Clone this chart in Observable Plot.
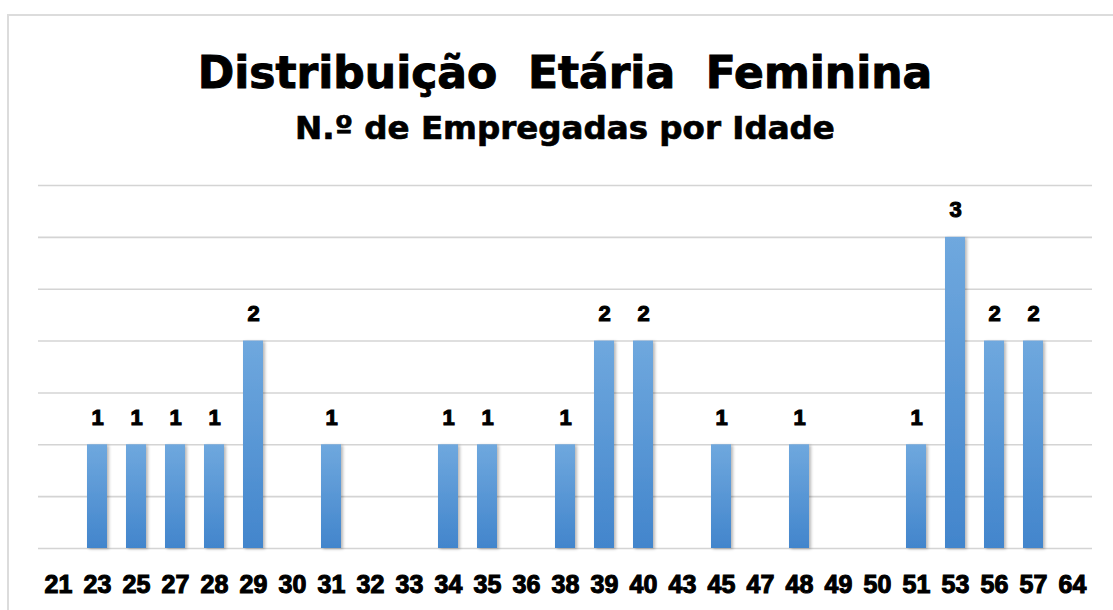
<!DOCTYPE html>
<html>
<head>
<meta charset="utf-8">
<script src="https://cdn.jsdelivr.net/npm/d3@7"></script>
<script src="https://cdn.jsdelivr.net/npm/@observablehq/plot@0.6"></script>
<style>
  html, body { margin: 0; padding: 0; background: #fff; }
  body { width: 1113px; height: 610px; overflow: hidden; position: relative; font-family: "DejaVu Sans", sans-serif; }
  #frame { position: absolute; left: 7px; top: 14px; width: 1130px; height: 700px; border: 2px solid #dcdcdc; box-sizing: border-box; }
  #header { position: relative; height: 160px; margin-left: 38px; width: 1054px; text-align: center; color: #000; }
  #title { position: absolute; left: 0; right: 0; top: 51px; font-size: 44px; font-weight: bold; line-height: 1; white-space: pre; -webkit-text-stroke: 1px #000; }
  #subtitle { position: absolute; left: 0; right: 0; top: 112px; font-size: 32.5px; font-weight: bold; line-height: 1; white-space: pre; -webkit-text-stroke: 0.7px #000; }
  #chart { position: relative; }
</style>
</head>
<body>
<div id="frame"></div>
<div id="header">
  <div id="title">Distribuição  Etária  Feminina</div>
  <div id="subtitle">N.º de Empregadas por Idade</div>
</div>
<div id="chart"></div>
<script>
const ages = ["21","23","25","27","28","29","30","31","32","33","34","35","36","38","39","40","43","45","47","48","49","50","51","53","56","57","64"];
const counts = [0,1,1,1,1,2,0,1,0,0,1,1,0,1,2,2,0,1,0,1,0,0,1,3,2,2,0];
const yTicks = [0,0.5,1,1.5,2,2.5,3,3.5];

const data = ages.map((a, i) => ({age: a, count: counts[i]}));
const nonzero = data.filter(d => d.count > 0);

const plot = Plot.plot({
  width: 1113,
  height: 450,
  marginTop: 25,
  marginBottom: 62,
  marginLeft: 38,
  marginRight: 21,
  style: {fontFamily: "Liberation Sans", background: "transparent", overflow: "visible"},
  x: {domain: ages, paddingInner: 0.49, paddingOuter: 0.245, label: null},
  y: {domain: [0, 3.5], axis: null},
  marks: [
    Plot.ruleY(yTicks, {stroke: "#d4d4d4", strokeWidth: 1.6}),
    Plot.barY(nonzero, {x: "age", y: "count", fill: "url(#barGrad)"}),
    Plot.text(nonzero, {x: "age", y: "count", text: d => String(d.count), dy: -20, lineAnchor: "bottom", fontSize: 22, fontWeight: "bold", fontFamily: "Liberation Sans", fill: "#000"}),
    Plot.axisX({tickSize: 0, tickPadding: 27, fontSize: 25, fontWeight: "bold", fill: "#000", label: null})
  ]
});

const svg = d3.select(plot);
const defs = svg.insert("defs", ":first-child");
const g = defs.append("linearGradient").attr("id", "barGrad").attr("x1", 0).attr("y1", 0).attr("x2", 0).attr("y2", 1);
g.append("stop").attr("offset", "0%").attr("stop-color", "#6fa8de");
g.append("stop").attr("offset", "100%").attr("stop-color", "#4285cc");
const f = defs.append("filter").attr("id", "shadow").attr("x", "-30%").attr("y", "-10%").attr("width", "170%").attr("height", "130%");
f.append("feDropShadow").attr("dx", 2).attr("dy", 1).attr("stdDeviation", 1.6).attr("flood-color", "#000").attr("flood-opacity", 0.28);
svg.selectAll("g[aria-label='bar'] rect").attr("filter", "url(#shadow)");
svg.selectAll("g[aria-label='text'] text")
  .style("font-size", "22px")
  .style("font-weight", "bold")
  .style("stroke", "#000")
  .style("stroke-width", "1.1px")
  .style("paint-order", "normal");
svg.selectAll("g[aria-label='x-axis tick label'] text")
  .style("font-family", "'Liberation Sans', Arial, sans-serif")
  .style("font-size", "25px")
  .style("font-weight", "bold")
  .style("stroke", "#000")
  .style("stroke-width", "1.1px")
  .style("paint-order", "normal");

document.getElementById("chart").appendChild(plot);
</script>
</body>
</html>
